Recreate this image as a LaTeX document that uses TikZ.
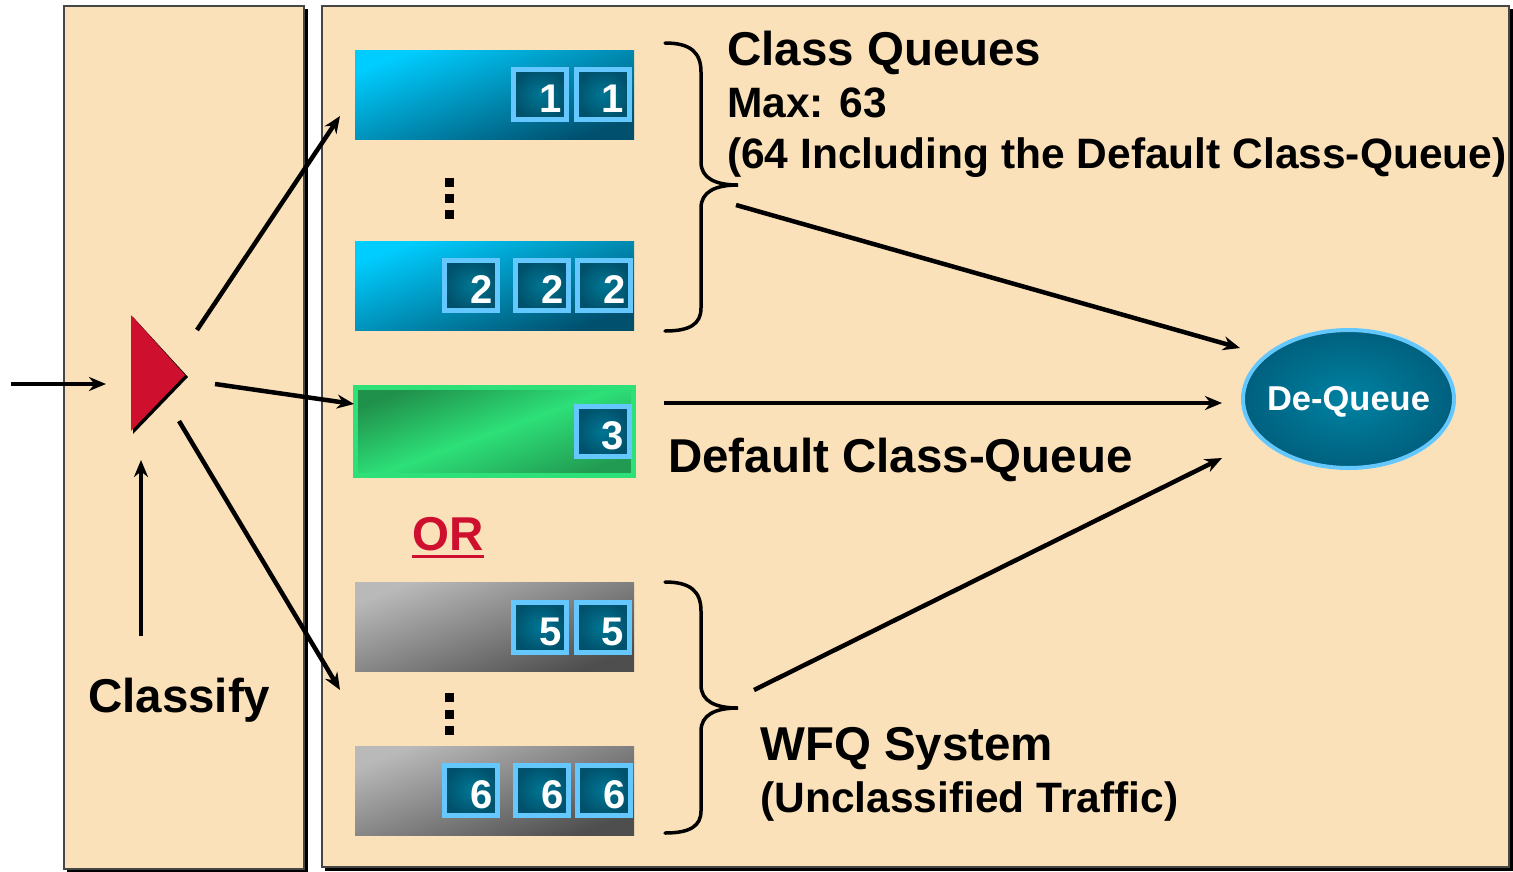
\documentclass[tikz,border=0pt]{standalone}
\usepackage{fontspec}
\setmainfont{Liberation Sans}
\usetikzlibrary{arrows.meta,calc,shapes.geometric}

\definecolor{panel}{RGB}{251,225,185}
\definecolor{paneledge}{RGB}{70,70,70}
\definecolor{qcyan}{RGB}{0,205,255}
\definecolor{qteal}{RGB}{0,80,110}
\definecolor{qgrayL}{RGB}{185,185,185}
\definecolor{qgrayD}{RGB}{78,78,78}
\definecolor{gEdge}{RGB}{45,224,120}
\definecolor{gDark}{RGB}{32,145,75}
\definecolor{gMid}{RGB}{45,224,120}
\definecolor{gLow}{RGB}{34,155,82}
\definecolor{pktEdge}{RGB}{100,200,255}
\definecolor{pktIn}{RGB}{0,118,148}
\definecolor{pktOut}{RGB}{0,82,108}
\definecolor{dqIn}{RGB}{0,130,162}
\definecolor{dqOut}{RGB}{0,96,126}
\definecolor{clsRed}{RGB}{206,16,46}

\newcommand\fsz[1]{\fontsize{#1}{#1}\selectfont}

\tikzset{
  panelbox/.style={fill=panel, draw=paneledge, line width=2},
  bar/.style={minimum width=279, minimum height=89, inner sep=0},
  bluebar/.style={bar, top color=qcyan, bottom color=qteal, shading angle=20},
  graybar/.style={bar, top color=qgrayL, bottom color=qgrayD, shading angle=20},
  greenbar/.style={minimum width=278, minimum height=88, inner sep=0, draw=gEdge, line width=5,
    top color=gDark, bottom color=gLow, middle color=gMid, shading angle=20},
  pkt/.style={draw=pktEdge, line width=5, minimum width=53, minimum height=50, inner sep=0,
    inner color=pktIn, outer color=pktOut, text=white, font=\bfseries\fsz{40},
    text width=43, align=right, text height=36, text depth=0},
  dotsq/.style={fill=black},
  conn/.style={line width=4.5, -{Stealth[length=17,width=14]}},
  brace/.style={line width=3.5, line cap=round},
  txt/.style={anchor=base west, inner sep=0},
  big/.style={font=\bfseries\fsz{47.5}},
  mid/.style={font=\bfseries\fsz{42.5}},
  dqtext/.style={text=white, font=\bfseries\fsz{34.5}, inner sep=0, yshift=-3},
}

\begin{document}
\begin{tikzpicture}[x=1pt,y=-1pt]
\useasboundingbox (0,0) rectangle (1513,871);
\fill[white] (0,0) rectangle (1513,871);

% two panels with drop shadows
\fill[black] (67,9) rectangle (308,874);
\draw[panelbox] (64,6) rectangle (304,869);
\fill[black] (325,9) rectangle (1513,871);
\draw[panelbox] (322,6) rectangle (1509,867);

% class queues
\node[bluebar] (q1) at (494.5,94.5) {};
\node[bluebar] (q2) at (494.5,285.5) {};
\node[pkt] (p11) at (540,94.5) {1};
\node[pkt] (p12) at (602.5,94.5) {1};
\node[pkt] (p21) at (471,285.5) {2};
\node[pkt] (p22) at (542,285.5) {2};
\node[pkt] (p23) at (604,285.5) {2};
\foreach \yy in {178,194,210} \fill[dotsq] (445,\yy) rectangle (454,\yy+9);

% default class queue
\node[greenbar] (q3) at (494.5,431.5) {};
\node[pkt] (p31) at (602.5,431.5) {3};

% WFQ queues
\node[graybar] (q5) at (494.5,626.5) {};
\node[graybar] (q6) at (494.5,790.5) {};
\node[pkt] (p51) at (540,627) {5};
\node[pkt] (p52) at (602.5,627) {5};
\node[pkt] (p61) at (471,790) {6};
\node[pkt] (p62) at (542,790) {6};
\node[pkt] (p63) at (604,790) {6};
\foreach \yy in {693,710,726} \fill[dotsq] (445,\yy) rectangle (454,\yy+9);

% classifier
\fill[black] (133,317) -- (188,377) -- (133,434) -- cycle;
\fill[clsRed] (131,315) -- (185,375) -- (131,431) -- cycle;

% scheduler
\node[ellipse, minimum width=211, minimum height=138, inner sep=0, draw=pktEdge, line width=4,
  inner color=dqIn, outer color=dqOut, label={[dqtext]center:De-Queue}] (dq) at (1348.5,399) {};

% labels
\node[txt, big] (tcq) at (727,65) {Class Queues};
\node[txt, mid] (tmax) at (727,117) {Max: 63};
\node[txt, mid] (tinc) at (727,168) {(64 Including the Default Class-Queue)};
\node[txt, big] (tdef) at (668,472) {Default Class-Queue};
\node[txt, big, text=clsRed] (tor) at (412,550) {OR};
\draw[clsRed, line width=3] ($(tor.base west)+(0,6)$) -- ($(tor.base east)+(0,6)$);
\node[txt, big] (twfq) at (760,760) {WFQ System};
\node[txt, mid] (tunc) at (760,812) {(Unclassified Traffic)};
\node[txt, big] (tcls) at (88,712) {Classify};

% braces
\draw[brace] (665,43) .. controls (690,43) and (701,52) .. (701,72) -- (701,162)
  .. controls (701,178) and (715,185) .. (738,185)
  .. controls (715,185) and (701,192) .. (701,208) -- (701,308)
  .. controls (701,324) and (690,331) .. (665,331);
\draw[brace] (665,582) .. controls (690,582) and (701,591) .. (701,611) -- (701,685)
  .. controls (701,701) and (715,708) .. (738,708)
  .. controls (715,708) and (701,715) .. (701,731) -- (701,811)
  .. controls (701,826) and (690,833) .. (665,833);

% connector end points
\coordinate (inS) at (11,384);
\coordinate (inE) at (106,384);
\coordinate (clsS) at (141,636);
\coordinate (clsE) at (141,460);
\coordinate (tU) at (197,330);
\coordinate (tM) at (215,384);
\coordinate (tD) at (179,421);
\coordinate (q1in) at (340,116);
\coordinate (q3in) at (354,404);
\coordinate (q5in) at (340,690);
\coordinate (cqOut) at (736,205);
\coordinate (q3out) at (664,403);
\coordinate (wfqOut) at (754,690);
\coordinate (dqU) at (1240,348);
\coordinate (dqM) at (1222,403);
\coordinate (dqD) at (1222,458);

% connectors
\draw[conn] (inS) -- (inE);
\draw[conn] (clsS) -- (clsE);
\draw[conn] (tU) -- (q1in);
\draw[conn] (tM) -- (q3in);
\draw[conn] (tD) -- (q5in);
\draw[conn] (cqOut) -- (dqU);
\draw[conn] (q3out) -- (dqM);
\draw[conn] (wfqOut) -- (dqD);
\end{tikzpicture}
\end{document}
